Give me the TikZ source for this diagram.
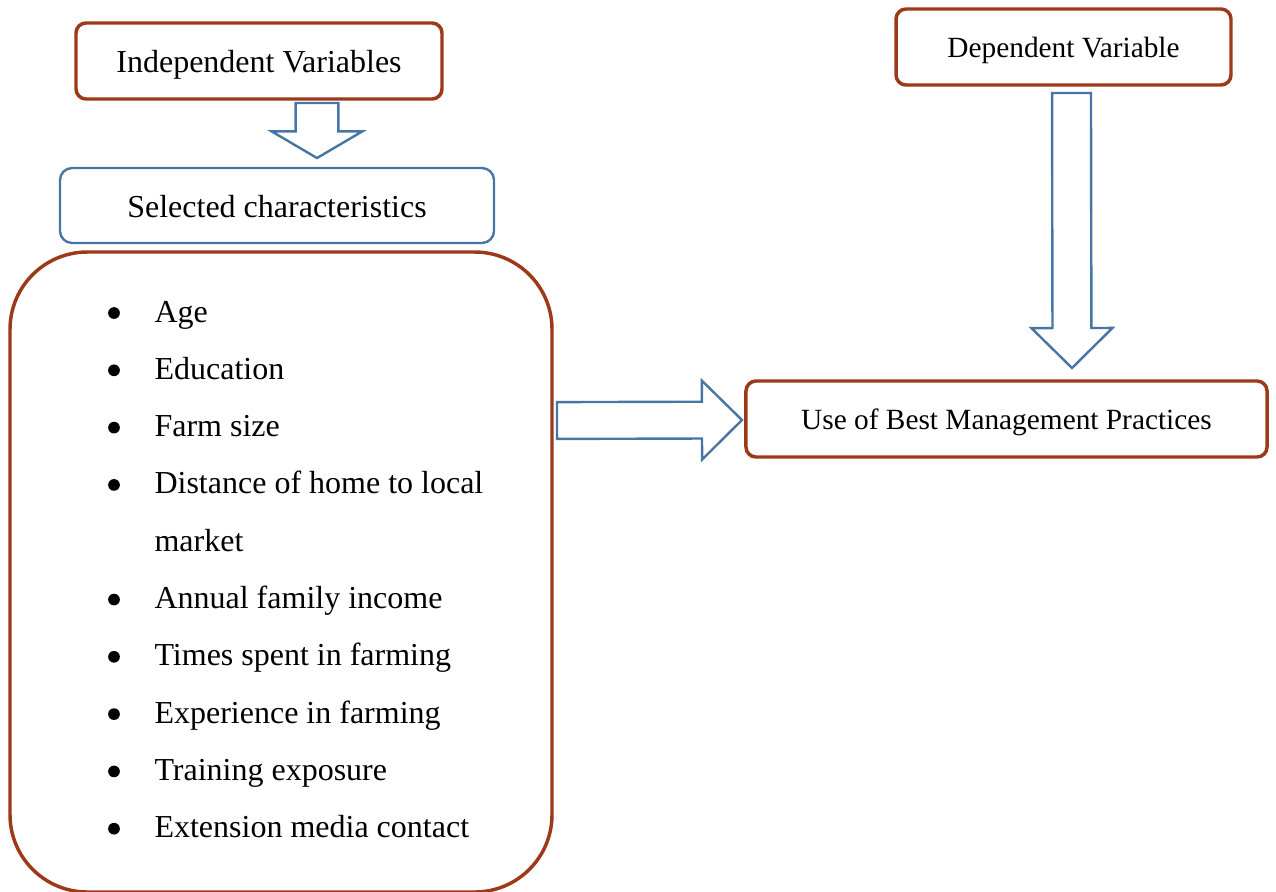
\documentclass[tikz,border=0pt]{standalone}
\usepackage{fontspec}
\setmainfont{Liberation Serif}
\usetikzlibrary{calc}
\definecolor{rust}{RGB}{155,57,25}
\definecolor{steel}{RGB}{70,118,165}
\def\hollowarrow[#1](#2)(#3)(#4:#5:#6){%
	\coordinate (hb) at ($(#3)!#6!(#2)$);
	\draw[#1] ($(#2)!#4!90:(#3)$) -- ($(hb)!#4!90:(#3)$) -- ($(hb)!#5!90:(#3)$) -- (#3)
		-- ($(hb)!#5!-90:(#3)$) -- ($(hb)!#4!-90:(#3)$) -- ($(#2)!#4!-90:(#3)$) -- cycle;}

\begin{document}
\begin{tikzpicture}[x=0.375pt, y=-0.375pt,
		rustbox/.style={draw=rust, line width=1.3pt, rounded corners=3.75pt, inner sep=0pt, outer sep=0pt},
		steelbox/.style={draw=steel, line width=0.9pt, rounded corners=4.5pt, inner sep=0pt, outer sep=0pt},
		bigtext/.style={font=\fontsize{12}{14}\selectfont, text height=9.5pt, text depth=0.8pt},
		smalltext/.style={font=\fontsize{11}{13}\selectfont, text height=8.9pt, text depth=0.7pt},
		blockarrow/.style={draw=steel, line width=0.9pt, line join=miter}]
			%%%%% START %%%%%
			\useasboundingbox (0, 0) rectangle (1276, 891);
			
			\node[rustbox, bigtext, minimum width=137.25pt, minimum height=28.5pt] (indep) at (259, 61) {Independent Variables};
			\node[steelbox, bigtext, minimum width=162.75pt, minimum height=28.1pt] (sel) at (277, 205.5) {Selected characteristics};
			\node[rustbox, smalltext, minimum width=125.6pt, minimum height=28.5pt] (dep) at (1063.5, 47) {Dependent Variable};
			\node[rustbox, smalltext, minimum width=195.4pt, minimum height=28.5pt] (bmp) at (1006.5, 419) {Use of Best Management Practices};
			
			\node[rustbox, rounded corners=29pt, minimum width=203.25pt, minimum height=240pt] (chars) at (281, 572) {};
			
			\foreach \txt/\yy/\bul [count=\i] in {Age/322/1, Education/379.3/1, Farm size/436.6/1,
					Distance of home to local/493.9/1, market/551.2/0, Annual family income/608.5/1,
					Times spent in farming/665.8/1, Experience in farming/723.1/1,
					Training exposure/780.4/1, Extension media contact/837.7/1}{
				\node[anchor=base west, inner sep=0pt, font=\fontsize{12}{14}\selectfont] (item\i) at (154, \yy) {\txt};
				\ifnum\bul=1 \fill (114, \yy-9) circle (2.2pt); \fi
			}
			
			\coordinate (a1) at ($(indep.south)+(58, 4)$);
			\coordinate (t1) at ($(sel.north)+(40, -10)$);
			\hollowarrow[blockarrow](a1)(t1)(8pt:17pt:10pt);
			
			\coordinate (a2) at ($(dep.south)+(8, 8)$);
			\coordinate (t2) at ($(bmp.north)+(65.5, -13)$);
			\hollowarrow[blockarrow](a2)(t2)(7.3pt:15.2pt:15pt);
			
			\coordinate (a3) at ($(chars.north east)+(5, 168.5)$);
			\coordinate (t3) at ($(bmp.west)+(-4, 1)$);
			\hollowarrow[blockarrow](a3)(t3)(6.9pt:14.8pt:15pt);
			
			%%%%% END %%%%%
\end{tikzpicture}
\end{document}
